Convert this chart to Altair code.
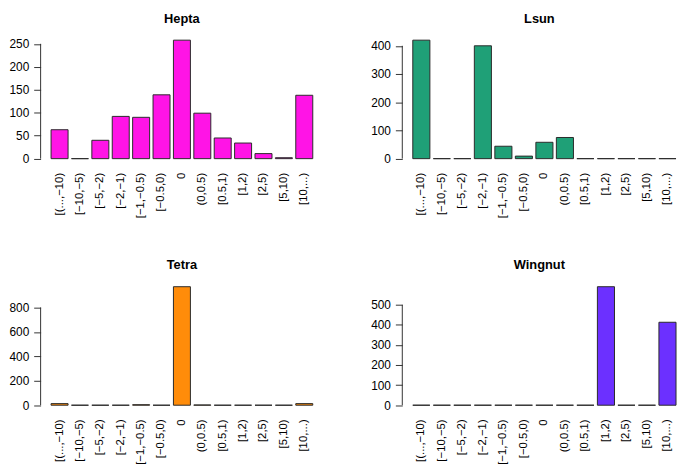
import altair as alt
import pandas as pd

categories = ["[(...,\u221210)", "[\u221210,\u22125)", "[\u22125,\u22122)", "[\u22122,\u22121)",
              "[\u22121,\u22120.5)", "[\u22120.5,0)", "0", "(0,0.5)", "[0.5,1)", "[1,2)",
              "[2,5)", "[5,10)", "[10,...)"]

hepta = [63, 0, 40, 92, 90, 139, 258, 99, 45, 34, 11, 2, 138]
lsun = [420, 0, 0, 400, 44, 9, 58, 75, 0, 0, 0, 0, 0]
tetra = [13, 0, 0, 0, 4, 0, 970, 2, 0, 0, 0, 0, 13]
wingnut = [0, 0, 0, 0, 0, 0, 0, 0, 0, 590, 0, 0, 413]

panels = [
    ("Hepta", hepta, "#FF14E6", [0, 50, 100, 150, 200, 250]),
    ("Lsun", lsun, "#1FA077", [0, 100, 200, 300, 400]),
    ("Tetra", tetra, "#FF8C0A", [0, 200, 400, 600, 800]),
    ("Wingnut", wingnut, "#6C30FF", [0, 100, 200, 300, 400, 500]),
]

FONT = "Liberation Sans"


def panel(name, values, color, ticks, right):
    df = pd.DataFrame({"cat": categories, "n": values})
    vmax = max(values)
    ydom = [-0.04 * vmax, 1.04 * vmax]
    if right:
        xscale = alt.Scale(domain=categories, paddingInner=0.2 / 1.2, paddingOuter=0.268, align=0.956)
        w = 277.5
    else:
        xscale = alt.Scale(domain=categories, paddingInner=0.2 / 1.2, paddingOuter=0.513)
        w = 286
    yscale = alt.Scale(domain=ydom, nice=False, zero=False)
    yaxis = alt.Axis(title=None, values=ticks, domain=False, tickSize=7,
                     tickColor="#333333", labelPadding=5, labelFontSize=12,
                     labelFont=FONT, labelColor="#000000", grid=False,
                     labelOverlap=False)
    bars = alt.Chart(df).mark_bar(color=color, stroke="#2a2a2a", strokeWidth=1).encode(
        x=alt.X("cat:N", sort=categories, scale=xscale,
                axis=alt.Axis(title=None, domain=False, ticks=False, labelAngle=270,
                              labelPadding=9, labelFontSize=11.5, labelFont=FONT,
                              labelColor="#000000", labelOverlap=False)),
        y=alt.Y("n:Q", scale=yscale, axis=yaxis),
        y2=alt.datum(0),
    )
    axis_line = alt.Chart(pd.DataFrame({"lo": [0], "hi": [ticks[-1]]})).mark_rule(
        color="#333333", strokeWidth=1).encode(
        x=alt.value(0), y=alt.Y("lo:Q", scale=yscale, axis=yaxis), y2="hi:Q")
    return alt.layer(bars, axis_line).properties(
        width=w, height=129.5,
        title=alt.TitleParams(name, fontSize=13, fontWeight="bold", font=FONT,
                              anchor="middle", frame="group", offset=10, color="#000000"))


charts = [panel(n, v, c, t, i % 2 == 1) for i, (n, v, c, t) in enumerate(panels)]

chart = alt.concat(*charts, columns=2, spacing={"row": 119.5, "column": 80},
                   bounds="flush").properties(
    padding={"left": 0, "top": 2, "right": 0, "bottom": 0}
).configure_view(stroke=None)

chart.save("out.html", embed_options={"renderer": "svg", "actions": False})
